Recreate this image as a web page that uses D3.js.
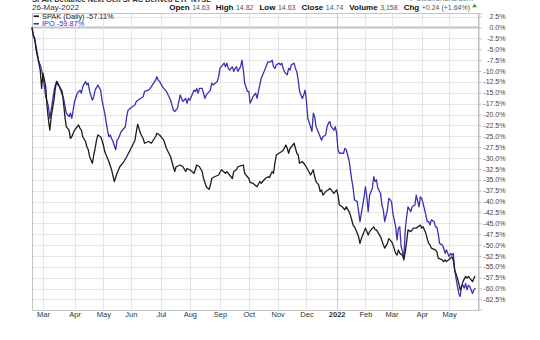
<!DOCTYPE html>
<html>
<head>
<meta charset="utf-8">
<script src="https://cdn.jsdelivr.net/npm/d3@7"></script>
<style>
  html, body { margin: 0; padding: 0; background: #fff; }
  svg { display: block; font-family: "Liberation Sans", Arial, sans-serif; }
</style>
</head>
<body>
<svg id="chart" width="540" height="340"></svg>
<script>
// ---- data -------------------------------------------------------------
// x = trading-day index from the start of the window, y = % change since start
const quoteDate = "26-May-2022";
const titleText = "SPAK Defiance Next Gen SPAC Derived ETF  NYSE";
const creditText = "\u00A9 StockCharts.com";
const headerLabels = ["Open", "High", "Low", "Close", "Volume", "Chg"];
const headerValues = ["14.63", "14.82", "14.63", "14.74", "3,158", "+0.24 (+1.64%)"];

const seriesNames = ["SPAK (Daily) -57.11%", "IPO -59.87%"];

const monthLabels = ["Mar", "Apr", "May", "Jun", "Jul", "Aug", "Sep", "Oct", "Nov", "Dec", "2022", "Feb", "Mar", "Apr", "May"];
const monthDays   = [8, 31, 52, 72, 94, 115, 137, 158, 179, 200, 222, 243, 262, 284, 304];
const lastDay = 325;

const pctTicks = d3.range(2.5, -63, -2.5);
const pctDomain = [-64.8, 3.26];

const spak = [
  [0,0],[1,-1.7],[2,-2.5],[3,-5.2],[5,-8.2],[6,-9.8],[7,-14.0],[8,-10.5],[10,-13.6],[11,-18.2],
  [12,-21.3],[13,-23.6],[14,-20.5],[16,-16.7],[17,-14.0],[18,-12.4],[19,-13.2],[20,-13.6],[22,-14.7],[23,-17.4],
  [24,-20.5],[25,-22.8],[27,-23.6],[28,-25.5],[29,-25.1],[30,-24.3],[31,-23.6],[34,-22.4],[35,-23.2],[36,-23.6],
  [37,-25.1],[39,-26.2],[40,-27.4],[41,-28.1],[42,-29.7],[44,-31.2],[45,-29.3],[46,-27.8],[47,-25.9],[48,-24.7],
  [50,-25.1],[51,-25.9],[52,-27.0],[53,-28.5],[54,-29.3],[56,-30.8],[58,-32.7],[60,-35.4],[62,-33.5],[64,-32.0],
  [67,-30.8],[69,-29.7],[71,-28.5],[74,-26.6],[75,-25.9],[77,-22.2],[79,-24.3],[81,-25.5],[82,-26.6],[85,-26.2],
  [87,-26.6],[90,-25.1],[91,-24.3],[93,-24.7],[96,-25.9],[98,-27.8],[101,-29.7],[103,-32.0],[104,-33.1],[105,-32.0],
  [108,-31.6],[110,-32.0],[112,-33.1],[113,-32.4],[115,-32.7],[118,-33.5],[119,-32.7],[120,-31.6],[122,-32.0],[124,-33.1],
  [125,-34.7],[127,-36.6],[129,-37.2],[130,-36.2],[131,-34.7],[133,-34.3],[136,-33.9],[138,-32.7],[141,-33.5],[142,-33.1],
  [146,-34.7],[147,-33.1],[149,-32.7],[150,-32.0],[154,-31.6],[155,-33.5],[158,-34.7],[159,-35.6],[161,-35.8],[164,-36.6],
  [166,-35.4],[167,-35.8],[170,-34.7],[172,-34.3],[173,-34.5],[175,-33.1],[176,-33.5],[177,-31.2],[178,-29.3],[180,-28.9],
  [182,-28.5],[183,-28.2],[185,-27.0],[186,-27.8],[187,-28.9],[188,-27.8],[191,-26.6],[192,-27.8],[193,-28.9],[194,-29.3],
  [195,-31.2],[197,-30.8],[199,-31.6],[201,-32.7],[203,-33.9],[205,-32.7],[206,-34.3],[207,-35.4],[209,-36.2],[210,-37.7],
  [211,-37.3],[212,-38.5],[214,-37.7],[216,-37.3],[217,-37.0],[218,-37.3],[220,-38.1],[222,-37.3],[223,-38.5],[224,-40.8],
  [226,-41.2],[228,-41.9],[229,-41.2],[231,-42.3],[232,-43.1],[233,-44.2],[234,-45.4],[235,-45.8],[237,-47.3],[238,-48.1],
  [239,-49.6],[240,-48.5],[242,-46.9],[243,-46.1],[244,-46.9],[245,-47.7],[246,-46.9],[249,-45.8],[250,-46.5],[251,-46.5],
  [254,-48.1],[256,-49.9],[257,-50.7],[259,-49.6],[260,-48.5],[262,-49.2],[263,-49.9],[265,-51.9],[266,-52.3],[267,-51.1],
  [268,-51.9],[270,-52.3],[271,-53.4],[272,-51.5],[273,-49.2],[274,-46.5],[276,-46.9],[278,-46.1],[280,-46.1],[283,-45.4],
  [284,-46.1],[285,-45.8],[287,-47.3],[288,-48.5],[289,-49.6],[290,-49.9],[291,-50.7],[294,-51.1],[295,-51.5],[296,-53.0],
  [299,-53.4],[300,-53.8],[301,-53.4],[302,-53.8],[305,-53.0],[306,-52.7],[307,-53.4],[308,-55.7],[310,-57.6],[311,-58.8],
  [312,-60.3],[313,-59.6],[314,-58.4],[316,-57.2],[317,-57.6],[318,-57.2],[319,-57.6],[321,-58.4],[322,-57.6],[323,-57.11]
];

const ipo = [
  [0,0],[1,-2.1],[2,-2.9],[3,-4.4],[5,-7.9],[6,-8.6],[7,-9.8],[8,-11.3],[10,-15.9],[11,-17.0],
  [12,-18.2],[13,-20.9],[14,-19.0],[16,-14.7],[17,-13.2],[18,-12.4],[19,-12.8],[20,-13.6],[23,-16.3],[25,-19.7],
  [27,-20.5],[28,-19.7],[29,-20.9],[30,-19.0],[31,-17.0],[33,-15.1],[35,-14.4],[36,-15.1],[37,-13.6],[39,-12.4],
  [40,-13.2],[41,-12.8],[42,-14.7],[44,-16.7],[45,-15.9],[46,-14.4],[48,-13.2],[50,-14.4],[51,-16.7],[53,-19.7],
  [55,-23.6],[56,-25.1],[57,-24.7],[58,-25.5],[59,-26.2],[61,-28.1],[62,-25.9],[63,-25.5],[64,-24.7],[65,-23.9],
  [68,-22.8],[69,-20.5],[70,-19.0],[73,-18.2],[75,-17.8],[76,-17.0],[79,-16.3],[81,-15.9],[82,-14.7],[85,-14.4],
  [87,-13.6],[90,-12.1],[91,-11.3],[92,-12.1],[93,-12.4],[95,-13.6],[96,-14.0],[98,-14.7],[101,-16.7],[103,-19.0],
  [104,-19.3],[106,-18.6],[107,-17.0],[108,-15.5],[109,-16.3],[110,-17.0],[112,-16.3],[113,-17.4],[114,-16.3],[115,-16.7],
  [118,-14.4],[119,-14.7],[120,-14.0],[121,-15.1],[122,-14.0],[124,-14.0],[125,-15.1],[126,-16.3],[127,-15.5],[130,-14.4],
  [131,-12.8],[132,-13.2],[135,-12.4],[136,-11.3],[137,-9.4],[138,-9.0],[140,-8.2],[141,-9.0],[142,-8.2],[143,-9.4],
  [144,-9.8],[146,-9.0],[147,-10.1],[148,-9.4],[149,-9.0],[150,-10.1],[152,-9.0],[153,-7.5],[154,-9.8],[155,-12.8],
  [157,-14.7],[158,-14.7],[159,-17.4],[160,-16.7],[161,-15.9],[163,-15.1],[164,-16.3],[165,-14.7],[166,-13.2],[167,-11.7],
  [169,-10.2],[171,-8.6],[172,-7.9],[174,-7.9],[175,-7.5],[176,-9.0],[177,-9.4],[178,-8.6],[180,-8.2],[181,-8.6],
  [182,-8.2],[183,-9.4],[184,-10.2],[186,-10.9],[187,-9.4],[188,-9.8],[189,-8.6],[191,-8.2],[192,-9.4],[193,-10.2],
  [194,-12.1],[195,-14.7],[197,-16.3],[198,-15.5],[199,-14.4],[200,-17.0],[201,-20.9],[203,-22.8],[204,-23.9],[205,-19.7],
  [206,-20.5],[207,-22.8],[209,-24.3],[210,-25.1],[211,-25.9],[212,-25.1],[214,-24.7],[215,-22.8],[216,-22.0],[217,-21.6],
  [218,-22.8],[220,-23.6],[221,-22.8],[222,-24.3],[223,-28.1],[224,-28.9],[227,-28.9],[228,-27.8],[229,-28.1],[231,-30.5],
  [232,-32.7],[233,-35.0],[234,-36.9],[235,-39.6],[237,-40.0],[238,-42.3],[239,-44.6],[240,-42.7],[242,-38.9],[243,-36.6],
  [244,-38.9],[245,-42.3],[246,-38.5],[248,-37.0],[249,-34.3],[250,-35.4],[251,-35.0],[252,-36.9],[254,-38.1],[255,-40.8],
  [256,-41.9],[257,-44.6],[259,-41.9],[260,-39.3],[261,-39.6],[262,-40.0],[263,-42.7],[265,-45.8],[266,-48.8],[267,-46.1],
  [268,-45.8],[269,-50.4],[271,-52.7],[272,-46.5],[273,-43.5],[274,-41.2],[276,-42.3],[277,-41.2],[279,-40.8],[280,-38.5],
  [282,-41.2],[283,-38.9],[284,-39.3],[285,-40.4],[287,-43.1],[288,-44.6],[289,-44.6],[290,-45.4],[291,-44.2],[293,-44.6],
  [294,-45.8],[295,-45.8],[296,-47.3],[297,-49.6],[299,-50.0],[300,-50.7],[301,-51.9],[302,-51.1],[304,-52.7],[305,-51.9],
  [306,-52.3],[307,-51.9],[308,-55.7],[310,-59.5],[311,-61.1],[312,-61.8],[313,-59.5],[314,-59.2],[315,-59.9],[316,-58.8],
  [317,-60.3],[318,-59.2],[319,-59.5],[321,-61.1],[322,-60.3],[323,-59.87]
];

// ---- layout -----------------------------------------------------------
const svg = d3.select("#chart");
const plot = { left: 32, right: 478, top: 13.3, bottom: 309.5 };
const BLACK = "#1c1c1c", BLUE = "#3b32b3";

const x = d3.scaleLinear().domain([0, lastDay]).range([plot.left, plot.right]);
const y = d3.scaleLinear().domain(pctDomain).range([plot.bottom, plot.top]);
const crisp = v => Math.round(v) + 0.5;

// title strip along the very top, mostly above the page edge
svg.append("text").attr("x", 32).attr("y", 1.5)
  .attr("font-size", 7.5).attr("font-weight", "bold").attr("fill", "#333").text(titleText);
svg.append("text").attr("x", 473).attr("y", 1.3).attr("text-anchor", "end")
  .attr("font-size", 7.5).attr("fill", "#777").text(creditText);

// quote header
svg.append("text").attr("x", 32).attr("y", 9.5)
  .attr("font-size", 8).attr("fill", "#333").text(quoteDate);

const header = svg.append("text").attr("x", 470).attr("y", 9.5)
  .attr("text-anchor", "end").attr("font-size", 8);
headerLabels.forEach((lab, i) => {
  header.append("tspan").attr("font-weight", "bold").attr("fill", "#111")
    .attr("font-size", 8).attr("dx", i === 0 ? 0 : 6).text(lab);
  header.append("tspan").attr("fill", "#555").attr("font-size", 7)
    .attr("dx", 2.5).text(headerValues[i]);
});
svg.append("path").attr("d", "M472,7.2 L477,7.2 L474.5,3.8 Z").attr("fill", "#2f9a3a");

// grid
const grid = svg.append("g");
grid.selectAll("line.h").data(pctTicks).join("line")
  .attr("x1", plot.left).attr("x2", plot.right)
  .attr("y1", d => crisp(y(d))).attr("y2", d => crisp(y(d)))
  .attr("stroke", d => d === 0 ? "#c2c2c2" : "#e6e6e6")
  .attr("stroke-width", d => d === 0 ? 2 : 1);
grid.selectAll("line.v").data(monthDays).join("line")
  .attr("x1", d => crisp(x(d))).attr("x2", d => crisp(x(d)))
  .attr("y1", plot.top).attr("y2", plot.bottom)
  .attr("stroke", (d, i) => monthLabels[i] === "2022" ? "#cfcfcf" : "#e4e4e4");

// frame
svg.append("rect")
  .attr("x", crisp(plot.left)).attr("y", crisp(plot.top))
  .attr("width", Math.round(plot.right) - Math.round(plot.left))
  .attr("height", Math.round(plot.bottom) - Math.round(plot.top))
  .attr("fill", "none").attr("stroke", "#c4c4c4");

// right percentage axis
const yAxis = svg.append("g").attr("transform", `translate(${crisp(plot.right)},0)`)
  .call(d3.axisRight(y).tickValues(pctTicks).tickSize(3).tickFormat(d => d.toFixed(1) + "%"));
yAxis.select(".domain").attr("stroke", "#bdbdbd");
yAxis.selectAll(".tick line").attr("stroke", "#bdbdbd");
yAxis.selectAll(".tick text")
  .attr("x", 27).attr("text-anchor", "end").attr("dy", "0.3em")
  .attr("font-size", 7).attr("font-family", "Liberation Sans, Arial, sans-serif").attr("fill", "#444");

// month axis
const xAxis = svg.append("g").attr("transform", `translate(0,${plot.bottom})`)
  .call(d3.axisBottom(x).tickValues(monthDays).tickSize(0).tickPadding(2)
    .tickFormat((d, i) => monthLabels[i]));
xAxis.select(".domain").remove();
xAxis.selectAll(".tick text")
  .attr("font-size", 7.5).attr("font-family", "Liberation Sans, Arial, sans-serif")
  .attr("fill", "#333")
  .attr("font-weight", (d, i) => monthLabels[i] === "2022" ? "bold" : "normal");

// performance lines
const line = d3.line().x(d => x(d[0])).y(d => y(d[1]));
svg.append("path").datum(ipo).attr("d", line)
  .attr("fill", "none").attr("stroke", BLUE).attr("stroke-width", 1.3).attr("stroke-linejoin", "round");
svg.append("path").datum(spak).attr("d", line)
  .attr("fill", "none").attr("stroke", BLACK).attr("stroke-width", 1.3).attr("stroke-linejoin", "round");

// legend
const legend = svg.append("g");
[BLACK, BLUE].forEach((c, i) => {
  const ly = 16.2 + i * 7.6;
  legend.append("line").attr("x1", 33.5).attr("x2", 39).attr("y1", ly).attr("y2", ly)
    .attr("stroke", c).attr("stroke-width", 1.6);
  legend.append("text").attr("x", 42).attr("y", ly + 2.5)
    .attr("font-size", 7.4).attr("fill", i === 0 ? "#222" : BLUE).text(seriesNames[i]);
});
</script>
</body>
</html>
